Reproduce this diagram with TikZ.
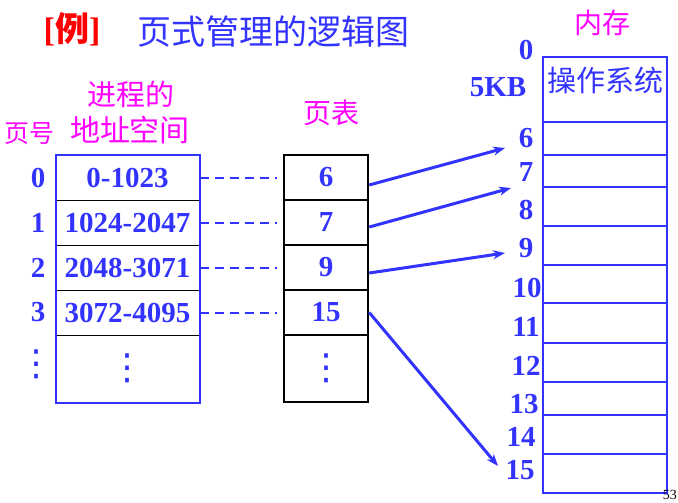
\documentclass[tikz,border=0pt]{standalone}
\usepackage{fontspec}
\setmainfont{Liberation Serif}
\newfontfamily\cjk{Noto Sans CJK SC}
\newfontfamily\symb{DejaVu Sans}
\usetikzlibrary{arrows.meta,calc}
\definecolor{pblue}{RGB}{51,51,255}
\definecolor{pmag}{RGB}{255,0,255}
\newcommand\bigdots{{\symb\mdseries\fontsize{36}{36}\selectfont ⋮}}

\tikzset{
    num/.style={font=\fontsize{29}{34}\selectfont\bfseries, text=pblue, inner sep=0pt},
    hz/.style={font=\fontsize{#1}{#1}\selectfont\cjk, text=pmag, inner sep=0pt},
    arow/.style={draw=black, line width=1pt, minimum width=143pt, minimum height=45pt, num},
    prow/.style={draw=black, line width=2.5pt, minimum width=84pt, minimum height=45pt, num},
    mrow/.style={draw=pblue, line width=2.5pt, minimum width=124pt, inner sep=0pt},
    link/.style={pblue, line width=2pt, dash pattern=on 9pt off 6pt},
    map/.style={pblue, line width=3pt, -{Stealth[length=12pt,width=9pt]}},
}

\begin{document}
\begin{tikzpicture}[x=1pt,y=-1pt]
    \useasboundingbox (0,0) rectangle (678,503);

    % title
    \node[font=\fontsize{34}{34}\selectfont\bfseries, text=red, inner sep=0pt] (ex) at (72,29) {[{\cjk 例}]};
    \node[hz=34, text=pblue] (title) at (273,32) {页式管理的逻辑图};

    % headings
    \node[hz=29] (proc1) at (131,94) {进程的};
    \node[hz=30] (proc2) at (130,130) {地址空间};
    \node[hz=25] (pgno) at (30,134) {页号};
    \node[hz=28] (ptab) at (331,113) {页表};
    \node[hz=28] (mem) at (602,23) {内存};

    % address space of the process
    \node[arow] (a0) at (127.5,177.5) {0-1023};
    \node[arow] (a1) at (127.5,222.5) {1024-2047};
    \node[arow] (a2) at (127.5,267.5) {2048-3071};
    \node[arow] (a3) at (127.5,312.5) {3072-4095};
    \node[arow, minimum height=67pt] (a4) at (127.5,368.5) {\bigdots};
    \draw[pblue, line width=2pt] (a0.north west) rectangle (a4.south east);

    % page numbers
    \foreach \i/\y in {0/177.5, 1/222.5, 2/267.5, 3/312.5}
        \node[num] (n\i) at (38,\y) {\i};
    \node[num] (n4) at (37,364) {\bigdots};

    % page table
    \node[prow] (p0) at (326,177.5) {6};
    \node[prow] (p1) at (326,222.5) {7};
    \node[prow] (p2) at (326,267.5) {9};
    \node[prow] (p3) at (326,312.5) {15};
    \node[prow, minimum height=67pt] (p4) at (326,368.5) {\bigdots};

    % memory
    \node[mrow, minimum height=65pt] (os) at (605,89.5) {};
    \node[hz=29, text=pblue] (ostext) at (605,80) {操作系统};
    \foreach \f/\t/\b in {6/122/155, 7/155/187, 8/187/226, 9/226/265, 10/265/303,
                          11/303/343, 12/343/382, 13/382/415, 14/415/454, 15/454/493}
        \node[mrow, minimum height={(\b-\t)*1pt}] (m\f) at (605,{(\t+\b)/2}) {};

    % frame numbers
    \node[num] (f0) at (526,50) {0};
    \node[num] (kb) at (498,87) {5KB};
    \foreach \f/\x/\y in {6/526/138, 7/526/172, 8/526/210, 9/526/248, 10/527/288,
                          11/526/327, 12/526/366, 13/524/404, 14/521/437, 15/520/470}
        \node[num] (f\f) at (\x,\y) {\f};

    % page -> entry
    \foreach \i in {0,...,3}
        \draw[link] (a\i.east) -- ([xshift=-6pt]p\i.west);

    % entry -> frame
    \draw[map] ([yshift=-7.5pt]p0.east) -- ($(f6)+(-21,10)$);
    \draw[map] ([yshift=-4.5pt]p1.east) -- ($(f7)+(-15,16)$);
    \draw[map] ([yshift=-5.5pt]p2.east) -- ($(f9)+(-21,5)$);
    \draw[map] (p3.east) -- ($(f15)+(-22,-4)$);

    \node[font=\fontsize{14}{14}\selectfont, anchor=east, inner sep=0pt] (slide) at (677,495) {53};
\end{tikzpicture}
\end{document}
